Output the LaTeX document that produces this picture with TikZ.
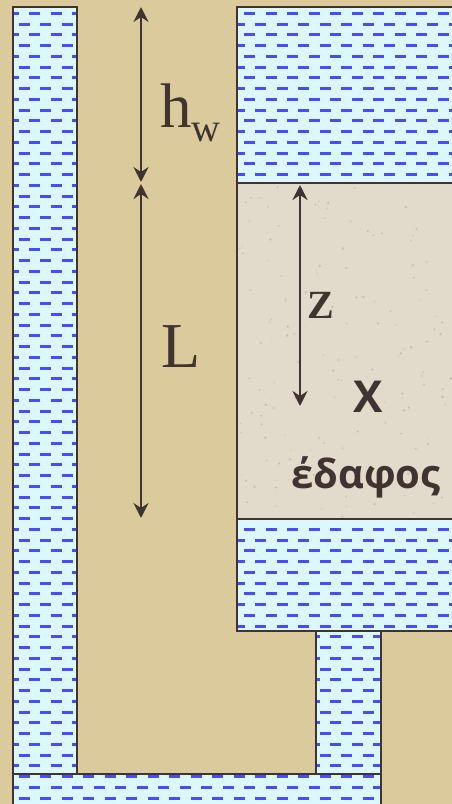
\documentclass[tikz,border=0pt]{standalone}
\usepackage{fontspec}
\setmainfont{Liberation Serif}
\newfontfamily\greekfont{Open Sans}
\usetikzlibrary{arrows.meta,positioning}
\usetikzlibrary{calc}
\definecolor{bgtan}{RGB}{218,202,156}
\definecolor{soilgray}{RGB}{226,218,203}
\definecolor{soildot}{RGB}{200,191,176}
\definecolor{waterblue}{RGB}{220,248,255}
\definecolor{dashblue}{RGB}{74,74,255}
\definecolor{edgebrown}{RGB}{64,52,48}

\begin{document}
\begin{tikzpicture}[x=1pt,y=-1pt,
      mybox/.style={draw=edgebrown,line width=2.6pt},
      mydash/.style={draw=dashblue,line width=2.8pt},
      mytip/.tip={Stealth[length=15pt,width=15pt,inset=5pt]},
      myarrow/.style={mytip-mytip,draw=edgebrown,line width=2.8pt},
      mylabel/.style={text=edgebrown,inner sep=0pt,anchor=base west}
      ]
      \useasboundingbox (0,0) rectangle (452,804);
      \fill[bgtan] (0,0) rectangle (452,804);
      \fill[soilgray] (237,183) rectangle (460,519);
      \pgfmathsetseed{7}
      \foreach \i in {1,...,140}
         \fill[soildot] ({239+212*rnd},{185+332*rnd}) circle ({0.5+0.9*rnd});

      % water: light fill with rows of short dashes
      \begin{scope}
         \clip (13,7) rectangle (77,774) (13,774) rectangle (381,810)
               (316,631) rectangle (381,774) (237,7) rectangle (460,183)
               (237,519) rectangle (460,631);
         \fill[waterblue] (0,0) rectangle (452,804);
         \foreach \k [evaluate=\k as \yy using 2.6+10.75*\k,
                      evaluate=\k as \ph using {7.8+10.75*mod(\k+1,2)}] in {0,...,75}
            \foreach \c in {-1,...,21}
               \draw[mydash] ({\ph+21.5*\c},\yy) -- ++(11,0);
      \end{scope}

      \draw[mybox] (13,7) rectangle (77,774);
      \draw[mybox] (13,774) rectangle (381,815);
      \draw[mybox] (316,631) rectangle (381,774);
      \draw[mybox] (237,7) rectangle (460,183);
      \draw[mybox] (237,183) rectangle (460,519);
      \draw[mybox] (237,519) rectangle (460,631);

      \coordinate (hwtop) at (141,7);
      \coordinate (hwbot) at (141,182);
      \coordinate (ltop) at (141,184);
      \coordinate (lbot) at (141,518);
      \coordinate (ztop) at (300,185);
      \coordinate (zbot) at (300,406);
      \draw[myarrow] (hwtop) -- (hwbot);
      \draw[myarrow] (ltop) -- (lbot);
      \draw[myarrow] (ztop) -- (zbot);

      \node[mylabel,font=\fontsize{63}{63}\selectfont] (hw) at (160,127)
         {h\raisebox{-14pt}{\fontsize{40}{40}\selectfont w}};
      \node[mylabel,font=\fontsize{64}{64}\selectfont] (L) at (161,367) {L};
      \node[mylabel,font=\bfseries\fontsize{40}{40}\selectfont] (Z) at (307,318) {Z};
      \node[mylabel,font=\greekfont\bfseries\fontsize{44}{44}\selectfont] (X) at (353,412) {X};
      \node[mylabel,font=\greekfont\bfseries\fontsize{40}{40}\selectfont] (soil) at (291,488) {έδαφος};
\end{tikzpicture}
\end{document}
